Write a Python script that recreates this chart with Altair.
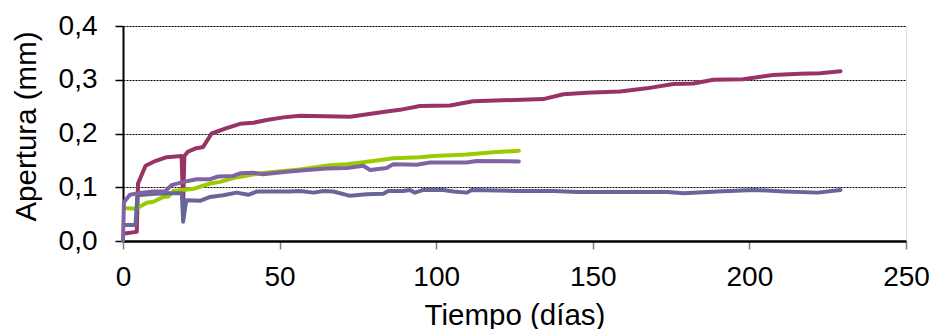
import altair as alt
import pandas as pd

# Maroon series
maroon_days = [0.4, 4.4, 4.8, 7.2, 10, 14, 18.7, 19.2, 19.6, 20.7, 23, 25.6, 28.3, 33.1, 37.4, 41.6,
               45.9, 51.2, 56.5, 72.5, 84.2, 88.4, 94.8, 104.4, 111.8, 134.2, 140.6, 148, 158.7,
               167.2, 175.7, 182.1, 188.5, 198, 207.6, 216.2, 222.6, 229.1]
maroon_vals = [0.014, 0.017, 0.107, 0.14, 0.148, 0.156, 0.158, 0.07, 0.158, 0.166, 0.172, 0.175,
               0.2, 0.21, 0.218, 0.22, 0.225, 0.23, 0.233, 0.231, 0.241, 0.244, 0.251, 0.252, 0.26,
               0.264, 0.273, 0.276, 0.278, 0.284, 0.292, 0.293, 0.3, 0.301, 0.309, 0.311, 0.312, 0.316]

# Green series
green_days = [1, 4.2, 7.6, 9.7, 12.9, 14.5, 16.1, 22.5, 27.8, 31, 35.2, 43.7, 56.5, 66.1, 71.4,
              79.9, 86.3, 94.8, 99.1, 109.7, 118.2, 126.4]
green_vals = [0.061, 0.06, 0.071, 0.073, 0.082, 0.083, 0.093, 0.097, 0.107, 0.11, 0.117, 0.126,
              0.133, 0.141, 0.143, 0.149, 0.154, 0.156, 0.158, 0.161, 0.165, 0.168]

# Blue-grey series
blue_days = [0.5, 4, 4.6, 10, 15, 18.8, 19.2, 20.2, 24.8, 27.8, 32, 36.3, 40, 42.7, 53.3, 56.5,
             60.8, 64, 67.2, 72.5, 77.8, 83.1, 84.7, 89.5, 91.6, 93.2, 95.9, 102.3, 105.5, 109.8,
             111.3, 125.7, 137.5, 145, 173.8, 179.1, 189.8, 201.5, 211.1, 221.8, 229.1]
blue_vals = [0.03, 0.03, 0.085, 0.088, 0.089, 0.089, 0.036, 0.076, 0.075, 0.082, 0.085, 0.09,
             0.086, 0.092, 0.092, 0.093, 0.09, 0.093, 0.092, 0.084, 0.087, 0.088, 0.093, 0.093,
             0.095, 0.09, 0.095, 0.095, 0.092, 0.09, 0.095, 0.093, 0.093, 0.091, 0.091, 0.089,
             0.092, 0.095, 0.092, 0.09, 0.095]

# Lavender series
lav_days = [0, 0.3, 2.2, 6, 9.7, 13.4, 15.5, 19.3, 23.5, 27.8, 30.4, 35.2, 37.4, 41.6, 44.8, 52.3,
            58.7, 65, 71.4, 76.7, 78.9, 84.2, 86.3, 93.8, 98, 109.7, 112.9, 126.4]
lav_vals = [0, 0.072, 0.086, 0.09, 0.092, 0.092, 0.104, 0.11, 0.115, 0.115, 0.12, 0.121, 0.126,
            0.127, 0.124, 0.129, 0.132, 0.135, 0.136, 0.14, 0.132, 0.136, 0.143, 0.142, 0.146,
            0.146, 0.149, 0.148]

x_ticks = [0, 50, 100, 150, 200, 250]
y_ticks = [0.0, 0.1, 0.2, 0.3, 0.4]

FONT = "Liberation Sans"

x_enc = alt.X("day:Q",
              scale=alt.Scale(domain=[0, 250], nice=False, zero=False),
              axis=alt.Axis(values=x_ticks, grid=False, title="Tiempo (días)",
                            domainColor="black", domainWidth=2.5,
                            tickColor="#808080", tickSize=8, tickWidth=1.5,
                            labelFont=FONT, labelFontSize=28, labelColor="black",
                            labelPadding=14, labelFlush=False,
                            titleFont=FONT, titleFontSize=29.5, titleFontWeight="normal",
                            titleColor="black", titleY=83, titleBaseline="alphabetic"))
y_enc = alt.Y("val:Q",
              scale=alt.Scale(domain=[0, 0.4], nice=False),
              axis=alt.Axis(values=y_ticks, grid=True, gridColor="black", gridDash=[2, 1],
                            gridWidth=1, gridOpacity=1, title="Apertura (mm)",
                            domainColor="black", domainWidth=2,
                            tickColor="black", tickSize=8, tickWidth=1.5,
                            labelExpr="replace(format(datum.value, '.1f'), '.', ',')",
                            labelFont=FONT, labelFontSize=28, labelColor="black",
                            labelPadding=18, labelFlush=False,
                            titleFont=FONT, titleFontSize=29.5, titleFontWeight="normal",
                            titleColor="black", titleX=-88, titleY=100,
                            titleBaseline="alphabetic", titleAngle=270))


def series(days, vals, color):
    df = pd.DataFrame({"day": days, "val": vals})
    return alt.Chart(df).mark_line(color=color, strokeWidth=4, strokeCap="round",
                                   strokeJoin="round").encode(x=x_enc, y=y_enc,
                                                              order="day:Q")


chart = alt.layer(
    series(maroon_days, maroon_vals, "#993366"),
    series(green_days, green_vals, "#99CC00"),
    series(blue_days, blue_vals, "#666699"),
    series(lav_days, lav_vals, "#8064A2"),
).properties(
    width=783, height=215,
    autosize=alt.AutoSizeParams(type="none"),
    padding={"left": 123, "top": 26, "right": 27, "bottom": 88},
).configure_view(stroke="black", strokeWidth=2.5).configure(background="white")

chart.save("out.html", embed_options={"renderer": "svg", "actions": False})
